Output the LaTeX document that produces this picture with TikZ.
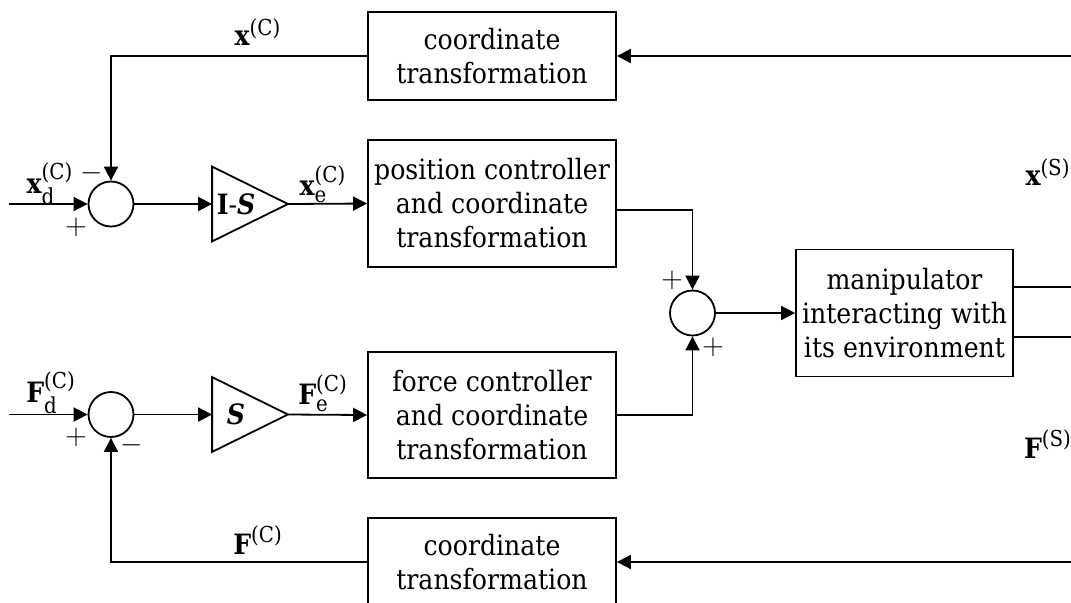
\documentclass[tikz,border=0pt]{standalone}
\usepackage{amsmath}
\usepackage{fontspec}
\setmainfont{DejaVu Serif Condensed}
\DeclareMathSizes{14}{14}{11}{9}
\usetikzlibrary{arrows.meta,calc}

\begin{document}
\begin{tikzpicture}[x=0.5pt,y=-0.5pt,
  line width=0.9pt,
  txt/.style={font=\fontsize{14}{17}\selectfont},
  blk/.style={draw, txt, align=center, inner sep=0pt, minimum width=124pt},
  sumnode/.style={draw, circle, minimum size=22.5pt, inner sep=0pt},
  trinode/.style={inner sep=0pt, minimum width=37pt, minimum height=36.5pt},
  arr/.style={-{Triangle[length=7pt,width=7pt]}},
  lbl/.style={txt, inner sep=0pt},
]
\clip (0,0) rectangle (1071,602);
\useasboundingbox (0,0) rectangle (1071,602);

% blocks
\node[blk, minimum height=44pt] (topbox) at (492,56) {coordinate\\transformation};
\node[blk, minimum height=63.5pt] (posbox) at (492,203.5) {position controller\\and coordinate\\transformation};
\node[blk, minimum height=63pt] (forcebox) at (492,415) {force controller\\and coordinate\\transformation};
\node[blk, minimum height=44pt] (botbox) at (492,562) {coordinate\\transformation};
\node[blk, minimum width=108.5pt, minimum height=63.5pt] (manip) at (904.5,313) {manipulator\\interacting with\\its environment};

% summing junctions
\node[sumnode] (sum1) at (111,204) {};
\node[sumnode] (sum2) at (111,414.5) {};
\node[sumnode] (sum3) at (692.5,313) {};

% gains
\node[trinode] (tri1) at (250,204) {};
\draw (tri1.north west) -- (tri1.east) -- (tri1.south west) -- cycle;
\node[lbl] (g1) at (236,204) {\textbf{I}-\textbf{\textit{S}}};
\node[trinode] (tri2) at (250,414.5) {};
\draw (tri2.north west) -- (tri2.east) -- (tri2.south west) -- cycle;
\node[lbl] (g2) at (236,414.5) {\textbf{\textit{S}}};

% free ends
\coordinate (in1) at (9,204);
\coordinate (in2) at (9,414.5);
\coordinate (fbx) at (1071,56);
\coordinate (fbf) at (1071,562);
\coordinate (outx) at (1071,287);
\coordinate (outf) at (1071,337);

% connectors
\draw[arr] (fbx) -- (topbox.east);
\draw[arr] (topbox.west) -| (sum1.north);
\draw[arr] (in1) -- (sum1.west);
\draw[arr] (sum1.east) -- (tri1.west);
\draw[arr] (tri1.east) -- (posbox.west);
\draw[arr] ([yshift=-3.25pt]posbox.east) -| (sum3.north);

\draw[arr] (fbf) -- (botbox.east);
\draw[arr] (botbox.west) -| (sum2.south);
\draw[arr] (in2) -- (sum2.west);
\draw[arr] (sum2.east) -- (tri2.west);
\draw[arr] (tri2.east) -- (forcebox.west);
\draw[arr] (forcebox.east) -| (sum3.south);

\draw[arr] (sum3.east) -- (manip.west);
\draw ([yshift=13pt]manip.east) -- (outx);
\draw ([yshift=-12pt]manip.east) -- (outf);

% labels
\node[lbl] (lxc) at (258,32) {$\textbf{x}^{\text{(C)}}$};
\node[lbl] (lxd) at (50,184) {$\textbf{x}_{\text{d}}^{\text{(C)}}$};
\node[lbl] (lxe) at (323,184) {$\textbf{x}_{\text{e}}^{\text{(C)}}$};
\node[lbl] (lfd) at (51,393) {$\textbf{F}_{\text{d}}^{\text{(C)}}$};
\node[lbl] (lfe) at (323,393) {$\textbf{F}_{\text{e}}^{\text{(C)}}$};
\node[lbl] (lfc) at (258,540) {$\textbf{F}^{\text{(C)}}$};
\node[lbl] (lxs) at (1048,172) {$\textbf{x}^{\text{(S)}}$};
\node[lbl] (lfs) at (1048,444) {$\textbf{F}^{\text{(S)}}$};

% signs
\node[lbl] (s1m) at (92,173) {$-$};
\node[lbl] (s1p) at (76,227) {$+$};
\node[lbl] (s2p) at (76,437) {$+$};
\node[lbl] (s2m) at (132,445) {$-$};
\node[lbl] (s3a) at (672,280) {$+$};
\node[lbl] (s3b) at (713,347) {$+$};
\end{tikzpicture}
\end{document}
